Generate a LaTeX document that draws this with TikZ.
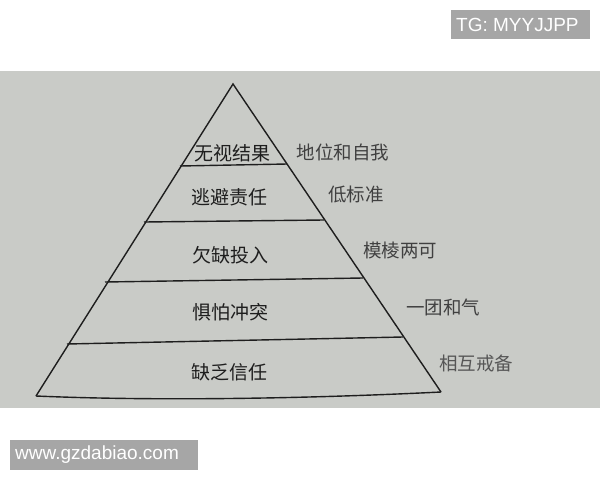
\documentclass[tikz,border=0pt]{standalone}
\usepackage{fontspec}
\usepackage{xcolor}
\newfontfamily\cjk{Noto Sans CJK SC}
\newfontfamily\wmfont{Liberation Sans}
\definecolor{paper}{RGB}{201,203,199}
\definecolor{ink}{RGB}{30,30,30}
\definecolor{wmgray}{RGB}{166,166,166}

\begin{document}
\begin{tikzpicture}[x=1pt,y=-1pt,
  edge/.style={ink,line width=1.4pt},
  level/.style={text=ink,font=\cjk\fontsize{19}{19}\selectfont,inner sep=0pt},
  note/.style={text=ink!85,font=\cjk\fontsize{18.5}{18.5}\selectfont,inner sep=0pt},
  wmtext/.style={text=white,font=\wmfont\fontsize{19}{19}\selectfont,inner sep=0pt,anchor=west}]
\useasboundingbox (0,0) rectangle (600,480);
\fill[white] (0,0) rectangle (600,480);
\fill[paper] (0,71) rectangle (600,408);

% pyramid outline
\draw[edge,line join=miter] (36,396) -- (233,84) -- (441,392);
\draw[edge] (36,396) .. controls (150,401) and (300,399) .. (441,392);

% layer lines
\draw[edge] (180,166) -- (287,164);
\draw[edge] (144,222) -- (324,220);
\draw[edge] (105,282) -- (363,278);
\draw[edge] (67,344) -- (403,337);

% layers
\node[level] (result)   at (232,153) {无视结果};
\node[level] (account)  at (229,197) {逃避责任};
\node[level] (commit)   at (230,255) {欠缺投入};
\node[level] (conflict) at (230,312) {惧怕冲突};
\node[level] (trust)    at (229,372) {缺乏信任};

% symptoms
\node[note] (status)  at (343,152) {地位和自我};
\node[note] (lowbar)  at (356,195) {低标准};
\node[note] (vague)   at (400,250) {模棱两可};
\node[note] (harmony) at (443,307) {一团和气};
\node[note,text=ink!75] (guard) at (476,363) {相互戒备};

% marks
\fill[wmgray] (451,10) rectangle (590,39);
\node[wmtext] (tg) at (456,24.5) {TG: MYYJJPP};
\fill[wmgray] (10,440) rectangle (198,470);
\node[wmtext] (site) at (15,455) {www.gzdabiao.com};
\end{tikzpicture}
\end{document}
